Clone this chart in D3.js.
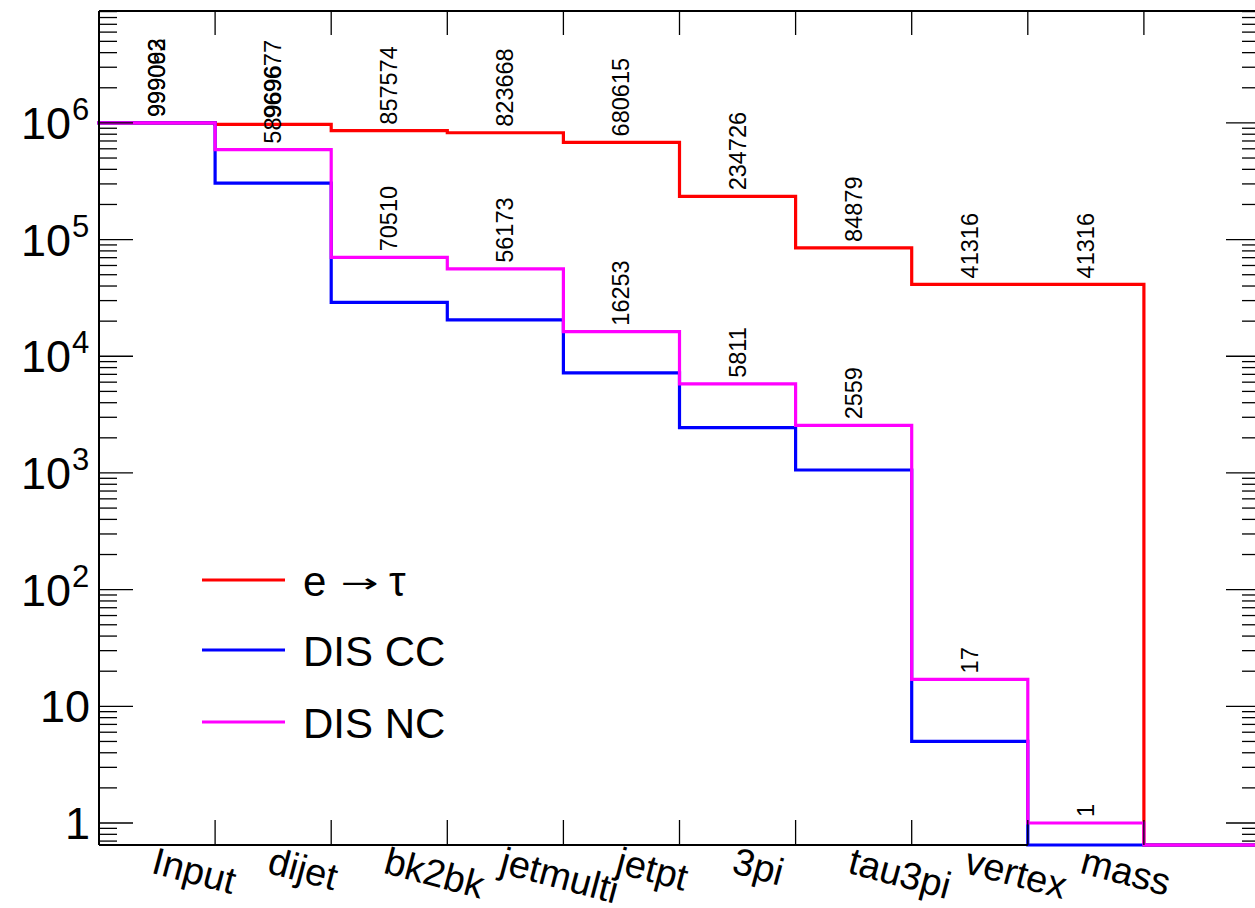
<!DOCTYPE html>
<html>
<head>
<meta charset="utf-8">
<script src="https://cdn.jsdelivr.net/npm/d3@7"></script>
<style>
  html, body { margin: 0; padding: 0; background: #fff; }
  svg { display: block; }
  text { font-family: "Liberation Sans", Arial, Helvetica, sans-serif; fill: #000; }
  text.arrow { font-family: "DejaVu Sans", sans-serif; }
</style>
</head>
<body>
<svg id="chart" width="1255" height="908"></svg>
<script>
// ---------- data ----------
const categories = ["Input", "dijet", "bk2bk", "jetmulti", "jetpt", "3pi", "tau3pi", "vertex", "mass", ""];
const sigValues = [999062, 969677, 857574, 823668, 680615, 234726, 84879, 41316, 41316, 0];   // e -> tau
const ccValues  = [999000, 305000, 29000, 20500, 7200, 2450, 1060, 5, 0, 0];               // DIS CC
const ncValues  = [999093, 589696, 70510, 56173, 16253, 5811, 2559, 17, 1, 0];             // DIS NC
const seriesNames = [["e", "\u2192", "\u03C4"], ["DIS CC"], ["DIS NC"]];
const seriesColors = ["#ff0000", "#0000ff", "#ff00ff"];
const labeledSeries = [true, false, true];
const yMajorTicks = [1, 10, 100, 1000, 10000, 100000, 1000000];
const yTickLabels = [["1", ""], ["10", ""], ["10", "2"], ["10", "3"], ["10", "4"], ["10", "5"], ["10", "6"]];

// ---------- layout ----------
const padL = 99, padR = 1260, padT = 11, padB = 845;
const svg = d3.select("#chart");
svg.append("rect").attr("width", 1255).attr("height", 908).attr("fill", "#fff");

const x = d3.scaleLinear().domain([0, categories.length]).range([padL, padR]);
const y = d3.scaleLog().domain([0.648, 9.1e6]).range([padB, padT]);
const yv = v => v > 0 ? y(v) : padB;

// ---------- histograms ----------
const allSeries = [sigValues, ccValues, ncValues];
allSeries.forEach((vals, si) => {
  const p = d3.path();
  vals.forEach((v, i) => {
    if (i === 0) p.moveTo(x(0), yv(v));
    else p.lineTo(x(i), yv(v));
    p.lineTo(x(i + 1), yv(v));
  });
  svg.append("path").attr("d", p.toString())
    .attr("fill", "none").attr("stroke", seriesColors[si])
    .attr("stroke-width", 3.2).attr("stroke-linejoin", "miter").attr("stroke-linecap", "square");
});

// ---------- value labels ----------
allSeries.forEach((vals, si) => {
  if (!labeledSeries[si]) return;
  vals.forEach((v, i) => {
    if (v <= 0) return;
    const cx = x(i + 0.5) + 8, cy = yv(v) - 6;
    svg.append("text")
      .attr("transform", `translate(${cx},${cy}) rotate(-90)`)
      .attr("font-size", 23.5).attr("text-anchor", "start")
      .text(String(v));
  });
});

// ---------- frame ----------
const axisG = svg.append("g").attr("stroke", "#000").attr("fill", "none");
axisG.append("line").attr("x1", padL).attr("x2", padL).attr("y1", padT).attr("y2", padB).attr("stroke-width", 2);
axisG.append("line").attr("x1", padL).attr("x2", padR).attr("y1", padT).attr("y2", padT).attr("stroke-width", 2);
axisG.append("line").attr("x1", padL).attr("x2", x(categories.length - 2)).attr("y1", padB).attr("y2", padB).attr("stroke-width", 2);
axisG.append("line").attr("x1", padR).attr("x2", padR).attr("y1", padT).attr("y2", padB).attr("stroke-width", 2);

// x ticks at bin edges
d3.range(1, categories.length).forEach(i => {
  axisG.append("line").attr("x1", x(i)).attr("x2", x(i)).attr("y1", padB).attr("y2", padB - 25).attr("stroke-width", 1.3);
  axisG.append("line").attr("x1", x(i)).attr("x2", x(i)).attr("y1", padT).attr("y2", padT + 24).attr("stroke-width", 1.3);
});

// y ticks (log)
const [dMin, dMax] = y.domain();
const minorTicks = [];
for (let k = -1; k <= 7; k++) {
  for (let m = 2; m <= 9; m++) {
    const v = m * Math.pow(10, k);
    if (v >= dMin && v <= dMax) minorTicks.push(v);
  }
}
minorTicks.forEach(v => {
  axisG.append("line").attr("x1", padL).attr("x2", padL + 18).attr("y1", y(v)).attr("y2", y(v)).attr("stroke-width", 1.3);
  axisG.append("line").attr("x1", padR).attr("x2", padR - 18).attr("y1", y(v)).attr("y2", y(v)).attr("stroke-width", 1.3);
});
yMajorTicks.forEach(v => {
  axisG.append("line").attr("x1", padL).attr("x2", padL + 34).attr("y1", y(v)).attr("y2", y(v)).attr("stroke-width", 1.3);
  axisG.append("line").attr("x1", padR).attr("x2", padR - 34).attr("y1", y(v)).attr("y2", y(v)).attr("stroke-width", 1.3);
});

// y labels
yMajorTicks.forEach((v, i) => {
  const [base, exp] = yTickLabels[i];
  svg.append("text").attr("font-size", 45).attr("text-anchor", "end")
    .attr("x", exp ? 71 : 90).attr("y", y(v) + 16).text(base);
  if (exp) {
    svg.append("text").attr("font-size", 31).attr("text-anchor", "start")
      .attr("x", 72).attr("y", y(v) - 3).text(exp);
  }
});

// x labels (rotated)
categories.forEach((c, i) => {
  if (!c) return;
  svg.append("text")
    .attr("transform", `translate(${x(i + 0.5)},${padB + 1}) rotate(15)`)
    .attr("font-size", 38).attr("dy", "0.72em").attr("text-anchor", "start")
    .text(c);
});

// ---------- legend ----------
const legendY = [580, 650, 722];
seriesNames.forEach((parts, si) => {
  svg.append("line").attr("x1", 202).attr("x2", 285)
    .attr("y1", legendY[si]).attr("y2", legendY[si])
    .attr("stroke", seriesColors[si]).attr("stroke-width", 3.2);
  const base = legendY[si] + 16;
  svg.append("text").attr("x", 303).attr("y", base).attr("font-size", 42).text(parts[0]);
  if (parts.length > 1) {
    const fs = 26;
    const arrow = svg.append("text").attr("class", "arrow").attr("font-size", fs)
      .attr("text-anchor", "start").text(parts[1]);
    const bb = arrow.node().getBBox();
    let sx = bb.width > 0 ? 38 / bb.width : 1;
    if (sx > 2.2) sx = 2.2;
    const baseline = legendY[si] + 4 + 0.32 * fs;
    arrow.attr("transform", `translate(${341},${baseline}) scale(${sx},1)`);
    svg.append("text").attr("x", 389).attr("y", base).attr("font-size", 42).text(parts[2]);
  }
});
</script>
</body>
</html>
